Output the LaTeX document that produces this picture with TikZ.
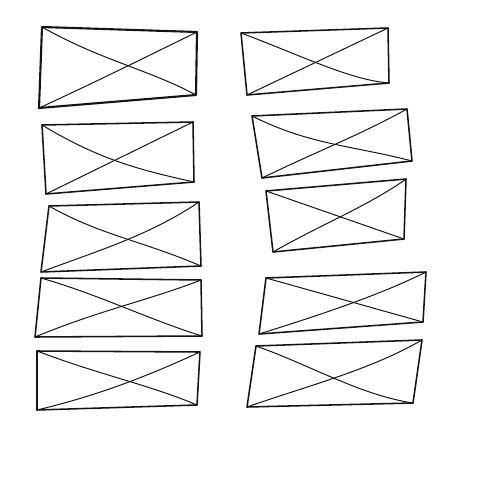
\documentclass[tikz,border=0pt]{standalone}
\usepackage{tikz}
\definecolor{figline}{RGB}{20,20,20}
\tikzset{
  bx/.style  ={draw=figline, line width=1.1pt, line join=round},
  bxb/.style ={draw=figline, line width=1.5pt, line join=round},
  dg/.style  ={draw=figline, line width=0.7pt, line cap=round},
}
\begin{document}
\begin{tikzpicture}[x=0.025cm,y=-0.025cm]
  \useasboundingbox[fill=white] (0,0) rectangle (480,480);
  % left column
  \draw[bxb] (42,27) -- (197,32) -- (196,95) -- (39,108) -- cycle;
  \draw[dg] (42,27) .. controls (100,60) and (150,70) .. (196,95);
  \draw[dg] (39,108) .. controls (100,80) and (150,55) .. (197,32);
  \draw[bx] (42,125) -- (193,122) -- (194,182) -- (46,194) -- cycle;
  \draw[dg] (42,125) .. controls (100,160) and (140,170) .. (194,182);
  \draw[dg] (46,194) -- (193,122);
  \draw[bx] (49,206) -- (199,202) -- (201,266) -- (41,272) -- cycle;
  \draw[dg] (49,206) .. controls (100,235) and (140,240) .. (201,266);
  \draw[dg] (41,272) .. controls (100,250) and (150,235) .. (199,202);
  \draw[bx] (41,278) -- (201,280) -- (202,336) -- (35,337) -- cycle;
  \draw[dg] (41,278) .. controls (100,295) and (150,320) .. (202,336);
  \draw[dg] (35,337) .. controls (100,310) and (150,300) .. (201,280);
  \draw[bx] (37,351) -- (200,352) -- (197,405) -- (37,410) -- cycle;
  \draw[dg] (37,351) .. controls (100,375) and (150,385) .. (197,405);
  \draw[dg] (37,410) .. controls (100,395) and (150,375) .. (200,352);
  % right column
  \draw[bx] (241,33) -- (388,28) -- (389,83) -- (247,95) -- cycle;
  \draw[dg] (241,33) .. controls (300,55) and (350,80) .. (389,83);
  \draw[dg] (247,95) -- (388,28);
  \draw[bx] (252,116) -- (407,109) -- (412,161) -- (262,178) -- cycle;
  \draw[dg] (252,116) .. controls (310,145) and (350,145) .. (412,161);
  \draw[dg] (262,178) .. controls (320,150) and (360,135) .. (407,109);
  \draw[bx] (266,191) -- (406,179) -- (404,239) -- (273,252) -- cycle;
  \draw[dg] (266,191) -- (404,239);
  \draw[dg] (273,252) .. controls (320,225) and (370,205) .. (406,179);
  \draw[bx] (266,278) -- (426,272) -- (423,322) -- (259,334) -- cycle;
  \draw[dg] (266,278) -- (423,322);
  \draw[dg] (259,334) .. controls (320,315) and (380,295) .. (426,272);
  \draw[bx] (256,346) -- (422,340) -- (413,403) -- (247,407) -- cycle;
  \draw[dg] (256,346) .. controls (310,365) and (360,395) .. (413,403);
  \draw[dg] (247,407) .. controls (310,385) and (370,370) .. (422,340);
\end{tikzpicture}
\end{document}
